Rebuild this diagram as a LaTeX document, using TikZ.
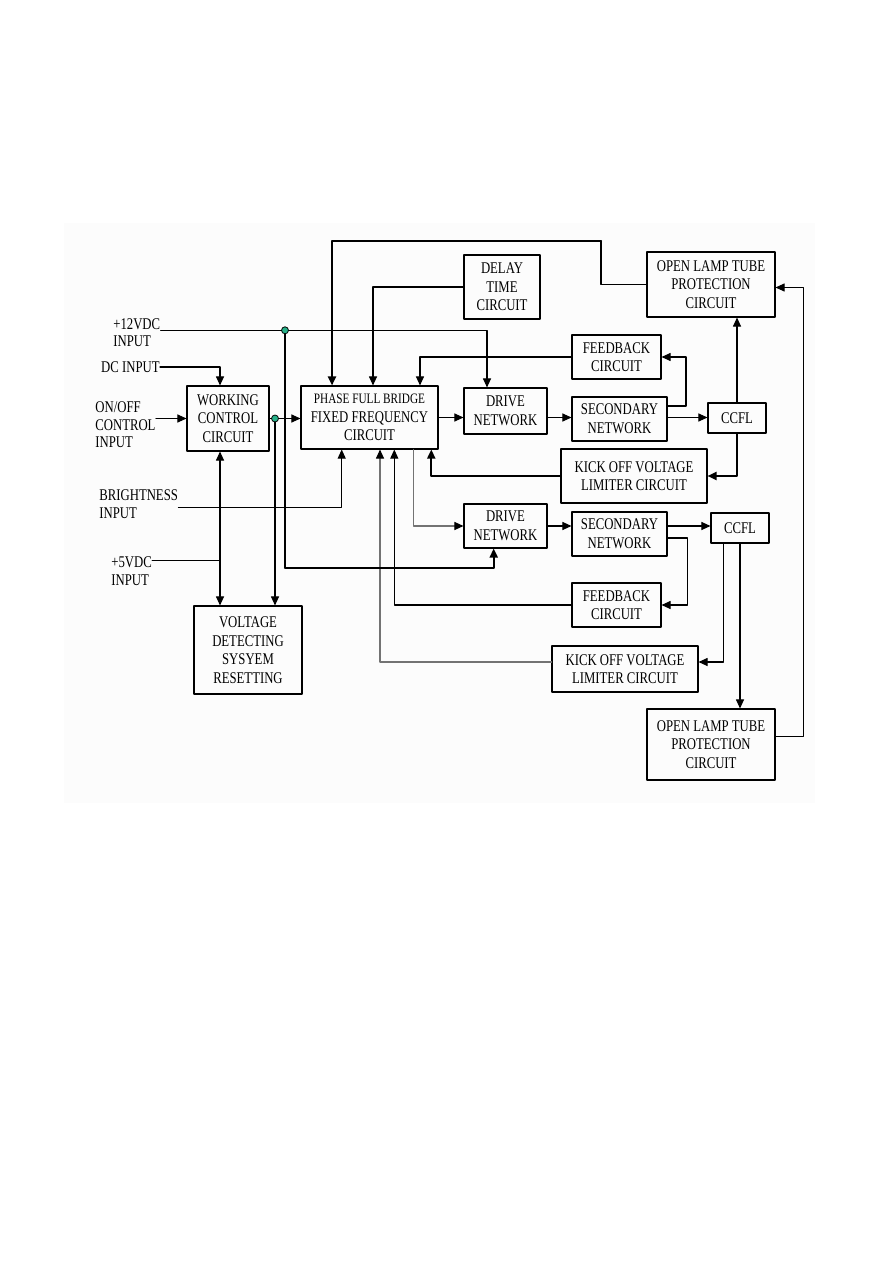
\documentclass[tikz,border=0pt]{standalone}
\usepackage{fontspec}
\setmainfont{Liberation Serif}[FakeStretch=0.78]
\usepackage{tikz}
\usetikzlibrary{arrows.meta,calc,positioning}
\definecolor{panelgray}{RGB}{252,252,252}
\definecolor{dotgreen}{RGB}{38,176,136}
\tikzset{
  blk/.style={draw, line width=0.6pt, align=center, inner sep=1pt, font=\fontsize{9.3pt}{10.6pt}\selectfont},
  lbl/.style={align=left, inner sep=0pt, font=\fontsize{9.3pt}{10pt}\selectfont},
  wire/.style={line width=0.6pt},
  heavy/.style={line width=1.15pt},
  faint/.style={draw=black!55},
  arr/.style={wire, -{Triangle[length=5.2pt,width=4.6pt,color=black]}},
  darr/.style={wire, {Triangle[length=5.2pt,width=4.6pt]}-{Triangle[length=5.2pt,width=4.6pt]}},
  jdot/.style={circle, draw, fill=dotgreen, inner sep=0pt, minimum size=0.14cm, line width=0.45pt},
  every picture/.style={line cap=round, line join=round}
}

\begin{document}
\begin{tikzpicture}[x=0.02cm, y=-0.02cm]
  \useasboundingbox (0,0) rectangle (893,1263);
  \fill[panelgray] (64,223) rectangle (815,803);

  % blocks
  \node[blk, minimum width=1.64cm, minimum height=1.30cm] (work) at (228,418.5) {WORKING\\CONTROL\\CIRCUIT};
  \node[blk, minimum width=2.74cm, minimum height=1.26cm] (phase) at (369.5,417.5)
    {{\fontsize{8.2pt}{10.6pt}\selectfont PHASE FULL BRIDGE}\\FIXED FREQUENCY\\CIRCUIT};
  \node[blk, minimum width=1.52cm, minimum height=1.28cm] (delay) at (502,287) {DELAY\\TIME\\CIRCUIT};
  \node[blk, minimum width=1.66cm, minimum height=0.92cm] (drvA) at (505.5,411) {DRIVE\\NETWORK};
  \node[blk, minimum width=2.56cm, minimum height=1.30cm] (olpA) at (711,284.5) {OPEN LAMP TUBE\\PROTECTION\\CIRCUIT};
  \node[blk, minimum width=1.78cm, minimum height=0.88cm] (fbA) at (616.5,357) {FEEDBACK\\CIRCUIT};
  \node[blk, minimum width=1.90cm, minimum height=0.88cm] (secA) at (619.5,419) {SECONDARY\\NETWORK};
  \node[blk, minimum width=1.16cm, minimum height=0.60cm] (ccflA) at (737,418) {CCFL};
  \node[blk, minimum width=2.92cm, minimum height=1.08cm] (kickA) at (634,476) {KICK OFF VOLTAGE\\LIMITER CIRCUIT};
  \node[blk, minimum width=1.66cm, minimum height=0.88cm] (drvB) at (505.5,526) {DRIVE\\NETWORK};
  \node[blk, minimum width=1.90cm, minimum height=0.88cm] (secB) at (619.5,534) {SECONDARY\\NETWORK};
  \node[blk, minimum width=1.16cm, minimum height=0.60cm] (ccflB) at (740,528) {CCFL};
  \node[blk, minimum width=1.78cm, minimum height=0.88cm] (fbB) at (616.5,605) {FEEDBACK\\CIRCUIT};
  \node[blk, minimum width=2.92cm, minimum height=0.92cm] (kickB) at (625,669) {KICK OFF VOLTAGE\\LIMITER CIRCUIT};
  \node[blk, minimum width=2.56cm, minimum height=1.42cm] (olpB) at (711,744.5) {OPEN LAMP TUBE\\PROTECTION\\CIRCUIT};
  \node[blk, minimum width=2.16cm, minimum height=1.76cm] (volt) at (248,650) {VOLTAGE\\DETECTING\\SYSYEM\\RESETTING};

  % inputs
  \node[lbl, anchor=west] (v12) at (113,332.5) {+12VDC\\INPUT};
  \node[lbl, anchor=east] (dcin) at (160,367) {DC INPUT};
  \node[lbl, anchor=west] (onoff) at (95,425) {ON/OFF\\CONTROL\\INPUT};
  \node[lbl, anchor=west] (bri) at (99,504) {BRIGHTNESS\\INPUT};
  \node[lbl, anchor=west] (v5) at (111,571.3) {+5VDC\\INPUT};

  \coordinate (j12) at (285,330.3);
  \coordinate (jw) at (275,418.5);
  \coordinate (wv) at ([xshift=-0.16cm]work.south);
  \coordinate (c12) at (285,568);

  % upper channel
  \draw[arr] ([yshift=0.044cm]v12.east) -| ([xshift=-0.37cm]drvA.north);
  \draw[arr] (dcin.east) -| ([xshift=-0.16cm]work.north);
  \draw[arr] (onoff.east |- work.west) -- (work.west);
  \draw[arr] (work.east) -- (work.east -| phase.west);
  \draw[arr] (phase.east) -- (phase.east -| drvA.west);
  \draw[arr] (drvA.east |- phase.east) -- (secA.west |- phase.east);
  \draw[arr] (secA.east |- phase.east) -- (ccflA.west |- phase.east);
  \draw[arr] ([yshift=0.26cm]secA.east) -| ([xshift=0.49cm]fbA.east) -- (fbA.east);
  \draw[arr] (fbA.west) -| ([xshift=1.01cm]phase.north);
  \draw[arr] (delay.west) -| ([xshift=0.07cm]phase.north);
  \draw[wire] (olpA.west) -| (601,241);
  \draw[arr, heavy] (601,241) -| ([xshift=-0.75cm]phase.north);
  \draw[arr] (ccflA.north) -- (ccflA.north |- olpA.south);
  \draw[arr, heavy] (ccflA.south) |- (kickA.east);
  \draw[arr, heavy] (kickA.west) -| ([xshift=1.236cm]phase.south);

  % lower channel
  \draw[arr, faint] ([xshift=0.876cm]phase.south) |- (drvB.west);
  \draw[arr] (drvB.east) -- (drvB.east -| secB.west);
  \draw[arr] (secB.east |- drvB.east) -- (ccflB.west |- drvB.east);
  \draw[arr] ([yshift=-0.08cm]secB.east) -| ([xshift=0.52cm]fbB.east) -- (fbB.east);
  \draw[arr] (fbB.west) -| ([xshift=0.496cm]phase.south);
  \draw[arr, faint] ([yshift=0.14cm]kickB.west) -| ([xshift=0.21cm]phase.south);
  \draw[arr] ([xshift=-0.334cm]ccflB.south) |- ([yshift=0.14cm]kickB.east);
  \draw[arr] (ccflB.south) -- (ccflB.south |- olpB.north);
  \draw[arr] ([yshift=0.16cm]olpB.east) -| ([xshift=0.56cm,yshift=-0.06cm]olpA.east) -- ([yshift=-0.06cm]olpA.east);

  % supplies and reset
  \draw[wire] (j12) -- (c12);
  \draw[arr, heavy] (c12) -| ([xshift=-0.236cm]drvB.south);
  \draw[arr] (jw) -- (jw |- volt.north);
  \draw[darr] (wv) -- (wv |- volt.north);
  \draw[wire] ([yshift=0.22cm]v5.east) -- ([yshift=0.22cm]v5.east -| wv);
  \draw[arr] ([yshift=-0.07cm]bri.east) -| ([xshift=-0.556cm]phase.south);

  \node[jdot] at (j12) {};
  \node[jdot] at (jw) {};
\end{tikzpicture}
\end{document}
